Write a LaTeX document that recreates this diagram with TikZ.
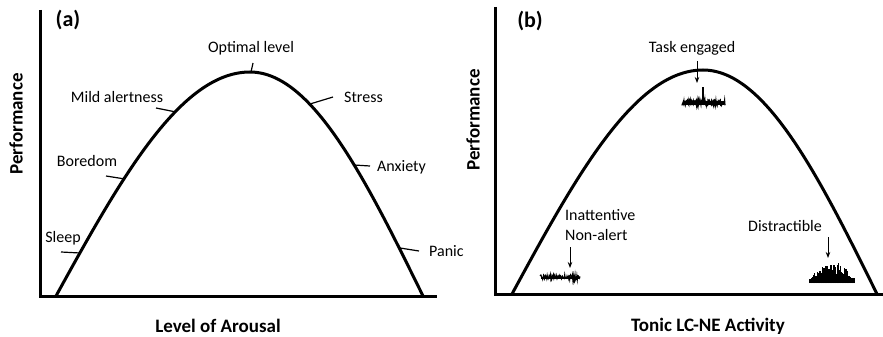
\documentclass[tikz,border=0pt]{standalone}
\usepackage{fontspec}
\setmainfont{Carlito}
\usetikzlibrary{arrows.meta}
\begin{document}
\begin{tikzpicture}[x=1pt,y=-1pt,
  axis/.style={line width=3pt, line join=miter},
  curve/.style={line width=3pt},
  tickline/.style={line width=1.2pt},
  lab/.style={font=\fontsize{16}{20}\selectfont, inner sep=0pt},
  blab/.style={font=\fontsize{19}{22}\selectfont\bfseries, inner sep=0pt},
  plab/.style={font=\fontsize{22}{24}\selectfont\bfseries, inner sep=0pt},
  arr/.style={-{Stealth[length=6pt,width=4.5pt]}, line width=0.8pt},
  trace/.style={line width=1pt}]
\useasboundingbox (0,0) rectangle (883,337);
\pgfmathsetseed{11}
% ---------- panel (a) ----------
\coordinate (aTop) at (40,10);
\coordinate (aO) at (40,296);
\coordinate (aR) at (437,296);
\draw[axis] (aTop) -- (aO) -- (aR);
\draw[curve] plot[domain=-194:0, samples=70] ({250+\x},{296-224*cos(90*\x/194)})
  -- plot[domain=0:173, samples=70] ({250+\x},{296-224*cos(90*\x/173)});
\node[plab] (alabel) at (68,20) {(a)};
\node[blab, rotate=90] (aperf) at (16,124) {Performance};
\node[blab] (axlab) at (218,326) {Level of Arousal};
\node[lab] (opt) at (251,48) {Optimal level};
\node[lab] (mild) at (117,97) {Mild alertness};
\node[lab, anchor=west] (stress) at (344,97) {Stress};
\node[lab] (bore) at (87,161) {Boredom};
\node[lab, anchor=west] (anx) at (377,167) {Anxiety};
\node[lab] (sleep) at (63,238) {Sleep};
\node[lab, anchor=west] (panic) at (429,251) {Panic};
\coordinate (t1a) at (253,63);  \coordinate (t1b) at (251,72);
\coordinate (t2a) at (156,108); \coordinate (t2b) at (176,112);
\coordinate (t3a) at (310,104); \coordinate (t3b) at (333,97);
\coordinate (t4a) at (106,176); \coordinate (t4b) at (125,179);
\coordinate (t5a) at (354,165); \coordinate (t5b) at (370,166);
\coordinate (t6a) at (61,252);  \coordinate (t6b) at (80,253);
\coordinate (t7a) at (400,248); \coordinate (t7b) at (419,251);
\foreach \k in {1,...,7} {\draw[tickline] (t\k a) -- (t\k b);}
% ---------- panel (b) ----------
\coordinate (bTop) at (495,7);
\coordinate (bO) at (495,294);
\coordinate (bR) at (883,294);
\draw[axis] (bTop) -- (bO) -- (bR);
\draw[curve] plot[domain=-191:0, samples=70] ({703+\x},{294-224*cos(90*\x/191)})
  -- plot[domain=0:174, samples=70] ({703+\x},{294-224*cos(90*\x/174)});
\node[plab] (blabel) at (530,21) {(b)};
\node[blab, rotate=90] (bperf) at (473,120) {Performance};
\node[blab] (bxlab) at (708,326) {Tonic LC-NE Activity};
\node[lab] (task) at (692,48) {Task engaged};
\node[lab, anchor=west, align=left] (inatt) at (565,225) {Inattentive\\Non-alert};
\node[lab] (distr) at (785,226) {Distractible};
\coordinate (taskTip) at (697,83);
\coordinate (inTip) at (570,268);
\coordinate (diTip) at (828,258);
\draw[arr] (697,61) -- (taskTip);
\draw[arr] (570,247) -- (inTip);
\draw[arr] (828,237) -- (diTip);
% traces
\draw[line width=3.2pt] (683,103) -- (724,103);
\draw[line width=1.2pt] plot[domain=682:725, samples=110] (\x,{103+6*(rnd-0.55)});
\draw[line width=1.8pt] (703,104) -- (703,87);
\draw[line width=2.4pt] (541,278) -- (579,278);
\draw[line width=1.1pt] plot[domain=540:580, samples=90] (\x,{278+5*(rnd-0.65)});
\draw[line width=5pt] (811,280) -- (854,280);
\foreach \i in {0,...,70} {
  \pgfmathsetmacro\hh{(9+12*rnd)*sin(180*(\i+6)/83)}
  \draw[line width=1.2pt] ({810+0.63*\i},283) -- ++(0,-\hh);
}
\end{tikzpicture}
\end{document}
